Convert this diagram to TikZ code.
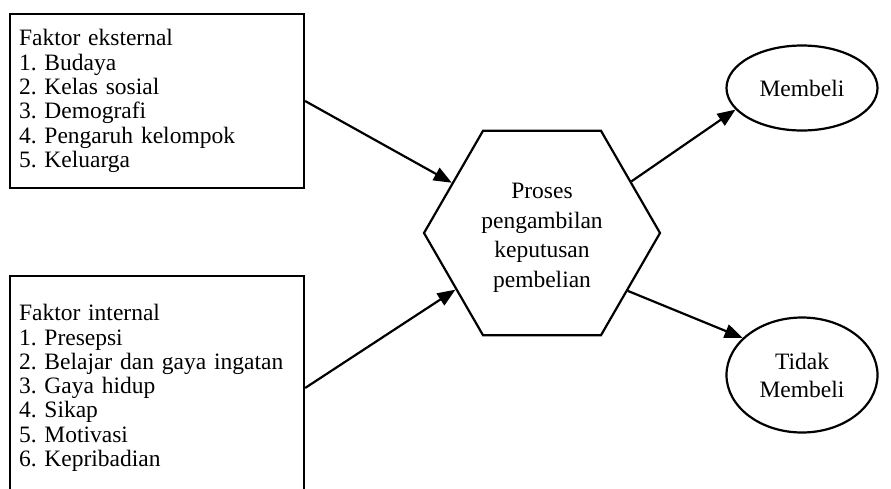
\documentclass[tikz,border=0pt]{standalone}
\usepackage{fontspec}
\setmainfont{Liberation Serif}
\usetikzlibrary{shapes.geometric,arrows.meta}
\frenchspacing
\begin{document}
\begin{tikzpicture}[x=1pt,y=-1pt, line width=2.2pt,
  box/.style={draw, rectangle, align=left, inner xsep=9pt, inner ysep=0pt, minimum width=294pt, text width=276pt, font=\frenchspacing\fontsize{23.5}{24.3}\selectfont},
  hexa/.style={draw, regular polygon, regular polygon sides=6, minimum size=236pt, inner sep=0pt, align=center, font=\fontsize{23.5}{29.5}\selectfont},
  oval/.style={draw, ellipse, minimum width=151pt, inner sep=0pt, align=center, font=\fontsize{23.5}{28}\selectfont},
  arr/.style={-{Triangle[length=18pt,width=14pt]}, line width=2.2pt}]
\useasboundingbox (0,0) rectangle (891,488);
\clip (0,0) rectangle (891,488);
\node[box, minimum height=174pt] (ext) at (157,101)
  {Faktor eksternal\\1. Budaya\\2. Kelas sosial\\3. Demografi\\4. Pengaruh kelompok\\5. Keluarga};
\node[box, minimum height=224pt] (int) at (157,388)
  {Faktor internal\\1. Presepsi\\2. Belajar dan gaya ingatan\\3. Gaya hidup\\4. Sikap\\5. Motivasi\\6. Kepribadian};
\node[hexa] (hex) at (542,233) {\raisebox{-4pt}[\height][\depth]{\begin{tabular}{@{}c@{}}Proses\\pengambilan\\keputusan\\pembelian\end{tabular}}};
\node[oval, minimum height=85pt] (yes) at (802,88) {Membeli};
\node[oval, minimum height=115pt] (no) at (802,375) {Tidak\\Membeli};
\draw[arr] (ext.east) -- (hex);
\draw[arr] (int.east) -- (hex);
\draw[arr] (hex.30) -- (yes.198);
\draw[arr] (hex.-34) -- (no.148);
\end{tikzpicture}
\end{document}
